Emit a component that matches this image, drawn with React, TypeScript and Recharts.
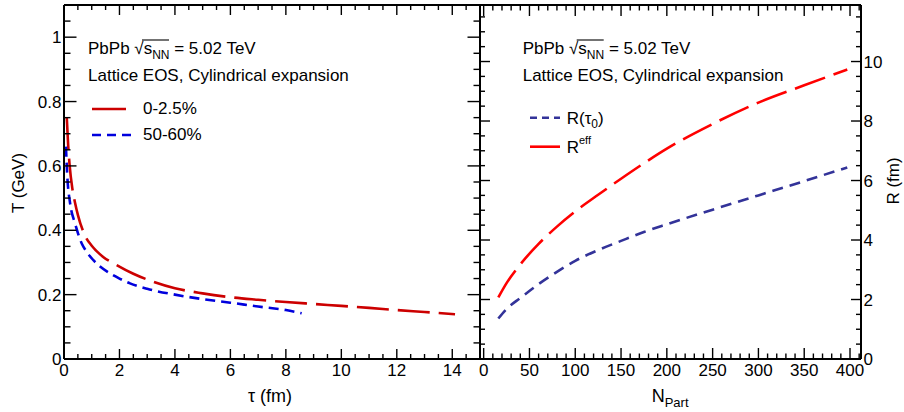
import React from 'react';
import { LineChart, Line, XAxis, YAxis, Legend } from 'recharts';

const FONT = '"Liberation Sans", Arial, Helvetica, sans-serif';
const W = 904;
const H = 412;

// Left panel: temperature T (GeV) against proper time tau (fm)
const tauCentral = [0.1, 0.15, 0.2, 0.3, 0.4, 0.5, 0.75, 1.0, 1.4, 1.9, 2.5, 3.0, 4.0, 5.0, 6.0, 7.0, 8.0, 9.0, 10.0, 11.0, 12.0, 13.0, 14.1];
const tempCentral = [0.75, 0.665, 0.605, 0.53, 0.485, 0.448, 0.385, 0.352, 0.318, 0.292, 0.265, 0.247, 0.22, 0.204, 0.192, 0.184, 0.177, 0.171, 0.165, 0.159, 0.152, 0.146, 0.139];
const tauPeripheral = [0.07, 0.12, 0.22, 0.4, 0.64, 0.8, 1.06, 1.66, 2.0, 2.38, 3.0, 4.0, 5.0, 6.0, 7.0, 8.0, 8.57];
const tempPeripheral = [0.66, 0.566, 0.484, 0.421, 0.359, 0.335, 0.307, 0.266, 0.25, 0.235, 0.218, 0.2, 0.186, 0.175, 0.163, 0.152, 0.142];

// Right panel: transverse radius R (fm) against N_part
const nPart = [16, 25, 40, 60, 80, 100, 125, 150, 175, 200, 250, 300, 350, 397];
const radiusInitial = [1.36, 1.68, 2.05, 2.52, 2.93, 3.3, 3.66, 3.97, 4.27, 4.53, 5.02, 5.5, 5.98, 6.44];
const radiusEffective = [2.07, 2.55, 3.18, 3.87, 4.45, 4.96, 5.52, 6.06, 6.58, 7.07, 7.9, 8.62, 9.2, 9.73];

// Labelled (major) tick values
const tauTicks = [0, 2, 4, 6, 8, 10, 12, 14];
const tempTicks = [0, 0.2, 0.4, 0.6, 0.8, 1];
const nPartTicks = [0, 50, 100, 150, 200, 250, 300, 350, 400];
const radiusTicks = [0, 2, 4, 6, 8, 10];

const stepTicks = (from: number, to: number, step: number) => {
  const out: number[] = [];
  const n = Math.round((to - from) / step);
  for (let i = 0; i <= n; i++) out.push(Math.round((from + i * step) * 1000) / 1000);
  return out;
};

const tauMinor = stepTicks(0, 15, 0.5);
const tempMinor = stepTicks(0, 1.05, 0.05);
const nPartMinor = stepTicks(0, 410, 10);
const radiusMinor = stepTicks(0, 11.5, 0.5);

const toRows = (xs: number[], ys: number[]) => xs.map((x, i) => ({ x, y: ys[i] }));

const centralRows = toRows(tauCentral, tempCentral);
const peripheralRows = toRows(tauPeripheral, tempPeripheral);
const initialRows = toRows(nPart, radiusInitial);
const effectiveRows = toRows(nPart, radiusEffective);

type Side = 'bottom' | 'top' | 'left' | 'right';
interface TickSpec {
  side: Side;
  majors: number[];
  majorLen: number;
  minorLen: number;
  label?: (v: number) => string;
}

// Inward-pointing tick marks (long for labelled values, short otherwise)
const makeTick = (spec: TickSpec) => (props: any) => {
  const { x, y, payload } = props;
  const v = Number(payload.value);
  const isMajor = spec.majors.some((m) => Math.abs(m - v) < 1e-6);
  const len = isMajor ? spec.majorLen : spec.minorLen;
  let x2 = x;
  let y2 = y;
  if (spec.side === 'bottom') y2 = y - len;
  else if (spec.side === 'top') y2 = y + len;
  else if (spec.side === 'left') x2 = x + len;
  else x2 = x - len;
  let label: React.ReactNode = null;
  if (isMajor && spec.label) {
    const text = spec.label(v);
    const common = { fontFamily: FONT, fontSize: 17, fill: '#000' };
    if (spec.side === 'bottom') {
      label = (
        <text x={x} y={y + 17} textAnchor="middle" {...common}>
          {text}
        </text>
      );
    } else if (spec.side === 'left') {
      label = (
        <text x={x - 2.5} y={y + 6} textAnchor="end" {...common}>
          {text}
        </text>
      );
    } else if (spec.side === 'right') {
      label = (
        <text x={x + 2.5} y={y + 6} textAnchor="start" {...common}>
          {text}
        </text>
      );
    }
  }
  return (
    <g>
      <line x1={x} y1={y} x2={x2} y2={y2} stroke="#000" strokeWidth={1.4} />
      {label}
    </g>
  );
};

const AXIS_LINE = { stroke: '#000', strokeWidth: 2 };
const fmt = (v: number) => String(v);

const centralStyle = { color: '#cc0000', dash: '32 9' };
const peripheralStyle = { color: '#0000dd', dash: '10 6' };
const initialStyle = { color: '#333399', dash: '11 7' };
const effectiveStyle = { color: '#ff0000', dash: '32 9' };

const leftLegendStyles: Record<string, { color: string; dash: string; sampleDash: string; len: number }> = {
  '0-2.5%': { ...centralStyle, sampleDash: '', len: 34 },
  '50-60%': { ...peripheralStyle, sampleDash: '9 6', len: 42 },
};

const LeftLegend = (props: any) => {
  const order = ['0-2.5%', '50-60%'];
  const items = (props.payload ?? []).slice().sort((a: any, b: any) => order.indexOf(a.value) - order.indexOf(b.value));
  return (
    <svg width={140} height={60} style={{ overflow: 'visible', display: 'block' }}>
      {items.map((it: any, i: number) => {
        const s = leftLegendStyles[it.value];
        const cy = 14 + i * 26;
        return (
          <g key={it.value}>
            <line x1={0} x2={s.len} y1={cy} y2={cy} stroke={s.color} strokeWidth={2.6} strokeDasharray={s.sampleDash || undefined} />
            <text x={51} y={cy + 4.5} fontFamily={FONT} fontSize={17} fill="#000">
              {it.value}
            </text>
          </g>
        );
      })}
    </svg>
  );
};

const rightLegendStyles: Record<string, { color: string; sampleDash: string }> = {
  'R(τ0)': { color: initialStyle.color, sampleDash: '7 5' },
  Reff: { color: effectiveStyle.color, sampleDash: '' },
};

const RightLegendLabel = ({ name, y }: { name: string; y: number }) => {
  if (name === 'Reff') {
    return (
      <text x={36.7} y={y} fontFamily={FONT} fontSize={17} fill="#000">
        R
        <tspan fontSize={11} dy={-9}>
          eff
        </tspan>
      </text>
    );
  }
  return (
    <text x={36.7} y={y} fontFamily={FONT} fontSize={17} fill="#000">
      R(τ
      <tspan fontSize={12} dy={4}>
        0
      </tspan>
      <tspan dy={-4}>)</tspan>
    </text>
  );
};

const RightLegend = (props: any) => {
  const order = ['R(τ0)', 'Reff'];
  const items = (props.payload ?? []).slice().sort((a: any, b: any) => order.indexOf(a.value) - order.indexOf(b.value));
  return (
    <svg width={100} height={60} style={{ overflow: 'visible', display: 'block' }}>
      {items.map((it: any, i: number) => {
        const s = rightLegendStyles[it.value];
        const cy = 17.7 + i * 29;
        return (
          <g key={it.value}>
            <line x1={0} x2={30} y1={cy} y2={cy} stroke={s.color} strokeWidth={2.6} strokeDasharray={s.sampleDash || undefined} />
            <RightLegendLabel name={it.value} y={cy + 6.3} />
          </g>
        );
      })}
    </svg>
  );
};

// Axis boxes are 1px thick so that the frame sits exactly on the plot edges
const X_AXIS = { type: 'number' as const, dataKey: 'x', allowDataOverflow: true, interval: 0 as const, height: 1, tickSize: 0, tickMargin: 0, tickLine: false, axisLine: AXIS_LINE };
const Y_AXIS = { type: 'number' as const, allowDataOverflow: true, interval: 0 as const, width: 1, tickSize: 0, tickMargin: 0, tickLine: false, axisLine: AXIS_LINE };

function TemperaturePanel() {
  return (
    <LineChart width={W} height={H} margin={{ top: 4, left: 63, right: 423, bottom: 52 }}>
      <XAxis xAxisId="bottom" {...X_AXIS} domain={[0, 15]} ticks={tauMinor} tick={makeTick({ side: 'bottom', majors: tauTicks, majorLen: 10, minorLen: 5, label: fmt })} />
      <XAxis xAxisId="top" orientation="top" {...X_AXIS} domain={[0, 15]} ticks={tauMinor} tick={makeTick({ side: 'top', majors: tauTicks, majorLen: 10, minorLen: 5 })} />
      <YAxis yAxisId="left" {...Y_AXIS} domain={[0, 1.1]} ticks={tempMinor} tick={makeTick({ side: 'left', majors: tempTicks, majorLen: 12.5, minorLen: 6.5, label: fmt })} />
      <YAxis yAxisId="right" orientation="right" {...Y_AXIS} domain={[0, 1.1]} ticks={tempMinor} tick={makeTick({ side: 'right', majors: tempTicks, majorLen: 12.5, minorLen: 6.5 })} />
      <Line xAxisId="bottom" yAxisId="left" data={centralRows} dataKey="y" name="0-2.5%" type="monotone" stroke={centralStyle.color} strokeDasharray={centralStyle.dash} strokeWidth={2.6} dot={false} isAnimationActive={false} />
      <Line xAxisId="bottom" yAxisId="left" data={peripheralRows} dataKey="y" name="50-60%" type="monotone" stroke={peripheralStyle.color} strokeDasharray={peripheralStyle.dash} strokeWidth={2.6} dot={false} isAnimationActive={false} />
      <Legend layout="vertical" align="center" verticalAlign="middle" wrapperStyle={{ left: 92, top: 95, width: 140, height: 60 }} content={LeftLegend} />
    </LineChart>
  );
}

function RadiusPanel() {
  return (
    <LineChart width={W} height={H} margin={{ top: 4, left: 479, right: 42, bottom: 52 }}>
      <XAxis xAxisId="bottom" {...X_AXIS} domain={[-4, 412]} ticks={nPartMinor} tick={makeTick({ side: 'bottom', majors: nPartTicks, majorLen: 11, minorLen: 5.5, label: fmt })} />
      <XAxis xAxisId="top" orientation="top" {...X_AXIS} domain={[-4, 412]} ticks={nPartMinor} tick={makeTick({ side: 'top', majors: nPartTicks, majorLen: 11, minorLen: 5.5 })} />
      <YAxis yAxisId="left" {...Y_AXIS} domain={[0, 11.9]} ticks={radiusMinor} tick={makeTick({ side: 'left', majors: radiusTicks, majorLen: 10, minorLen: 5 })} />
      <YAxis yAxisId="right" orientation="right" {...Y_AXIS} domain={[0, 11.9]} ticks={radiusMinor} tick={makeTick({ side: 'right', majors: radiusTicks, majorLen: 10, minorLen: 5, label: fmt })} />
      <Line xAxisId="bottom" yAxisId="right" data={initialRows} dataKey="y" name="R(τ0)" type="monotone" stroke={initialStyle.color} strokeDasharray={initialStyle.dash} strokeWidth={2.6} dot={false} isAnimationActive={false} />
      <Line xAxisId="bottom" yAxisId="right" data={effectiveRows} dataKey="y" name="Reff" type="monotone" stroke={effectiveStyle.color} strokeDasharray={effectiveStyle.dash} strokeWidth={2.6} dot={false} isAnimationActive={false} />
      <Legend layout="vertical" align="center" verticalAlign="middle" wrapperStyle={{ left: 530, top: 100, width: 100, height: 60 }} content={RightLegend} />
    </LineChart>
  );
}

const Header = ({ x }: { x: number }) => (
  <g fontFamily={FONT} fontSize={17} fill="#000">
    <text x={x} y={54}>
      PbPb <tspan>√</tspan>
      <tspan>s</tspan>
      <tspan fontSize={12} dy={4.5}>
        NN
      </tspan>
      <tspan dy={-4.5}> = 5.02 TeV</tspan>
    </text>
    <line x1={x + 54} x2={x + 81} y1={40} y2={40} stroke="#000" strokeWidth={1.1} />
    <text x={x} y={81}>Lattice EOS, Cylindrical expansion</text>
  </g>
);

export default function App() {
  return (
    <div style={{ position: 'absolute', left: 0, top: 0, width: W, height: H, background: '#fff' }}>
      <div style={{ position: 'absolute', left: 0, top: 0 }}>
        <TemperaturePanel />
      </div>
      <div style={{ position: 'absolute', left: 0, top: 0 }}>
        <RadiusPanel />
      </div>
      <svg width={W} height={H} style={{ position: 'absolute', left: 0, top: 0, pointerEvents: 'none' }}>
        <Header x={88} />
        <Header x={522.7} />
        <g fontFamily={FONT} fill="#000">
          <text x={270} y={402} textAnchor="middle" fontSize={18}>
            τ (fm)
          </text>
          <text x={651.7} y={401.7} fontSize={18}>
            N
            <tspan fontSize={13} dy={5}>
              Part
            </tspan>
          </text>
          <text x={24} y={183} transform="rotate(-90 24 183)" textAnchor="middle" fontSize={17}>
            T (GeV)
          </text>
          <text x={899} y={181} transform="rotate(-90 899 181)" textAnchor="middle" fontSize={17}>
            R (fm)
          </text>
        </g>
      </svg>
    </div>
  );
}
